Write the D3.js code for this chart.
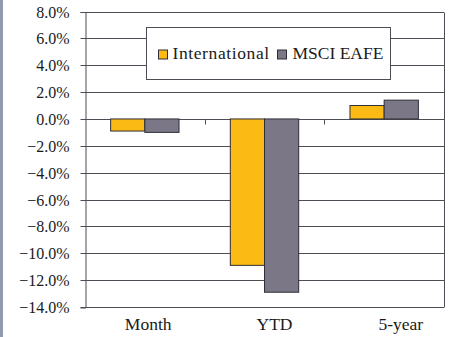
<!DOCTYPE html>
<html>
<head>
<meta charset="utf-8">
<script src="https://cdn.jsdelivr.net/npm/d3@7"></script>
<style>
  html, body { margin: 0; padding: 0; background: #fff; }
  svg { display: block; }
  text { font-family: "Liberation Serif", "DejaVu Serif", serif; fill: #1a1a1a; }
</style>
</head>
<body>
<svg id="chart" width="449" height="337"></svg>
<script>
// Returns (%) by period
const categories = ["Month", "YTD", "5-year"];
const seriesNames = ["International", "MSCI EAFE"];
const international = [-0.9, -10.9, 1.0];
const msciEafe = [-1.0, -12.9, 1.4];
const yTicks = [8, 6, 4, 2, 0, -2, -4, -6, -8, -10, -12, -14];

const colors = { "International": "#fbbb14", "MSCI EAFE": "#7b7787" };

const rows = categories.map((c, i) => ({
  category: c,
  values: [
    { key: "International", value: international[i] },
    { key: "MSCI EAFE", value: msciEafe[i] }
  ]
}));

const svg = d3.select("#chart");
const W = 449, H = 337;
const plotLeft = 85, plotRight = 444, plotTop = 11.5, plotBottom = 307;

// left edge stripe of the panel
svg.append("rect").attr("x", 0).attr("y", 0).attr("width", 3).attr("height", H)
  .attr("fill", "#8e9cad");

const y = d3.scaleLinear().domain([-14, 8]).range([plotBottom, plotTop]);
const x0 = d3.scaleBand().domain(categories).range([plotLeft, plotRight]).padding(0);
const x1 = d3.scaleBand().domain(seriesNames).range([0, x0.bandwidth()])
  .paddingInner(0).paddingOuter(0.75);
// category labels sit on a slightly wider band
const xLabel = d3.scaleBand().domain(categories).range([plotLeft, 464]).padding(0);

// horizontal gridlines
svg.append("g").selectAll("line").data(yTicks).join("line")
  .attr("x1", plotLeft).attr("x2", plotRight)
  .attr("y1", d => Math.round(y(d)) + 0.5).attr("y2", d => Math.round(y(d)) + 0.5)
  .attr("stroke", "#4d4d55").attr("stroke-width", 1);

// right frame line
svg.append("line")
  .attr("x1", plotRight + 0.5).attr("x2", plotRight + 0.5)
  .attr("y1", Math.round(y(8)) + 0.5).attr("y2", Math.round(y(-14)) + 0.5)
  .attr("stroke", "#4d4d55");

// bars
const groups = svg.append("g").selectAll("g").data(rows).join("g")
  .attr("transform", d => `translate(${x0(d.category)},0)`);
groups.selectAll("rect").data(d => d.values).join("rect")
  .attr("x", d => x1(d.key))
  .attr("width", x1.bandwidth())
  .attr("y", d => y(Math.max(0, d.value)))
  .attr("height", d => Math.abs(y(d.value) - y(0)))
  .attr("fill", d => colors[d.key])
  .attr("stroke", "#2e2e36").attr("stroke-width", 1);

// y axis
const yAxis = d3.axisLeft(y).tickValues(yTicks)
  .tickFormat(d => d3.format(".1f")(d) + "%")
  .tickSize(5).tickPadding(11);
const gy = svg.append("g").attr("transform", `translate(${plotLeft + 0.5},0.5)`).call(yAxis);
gy.selectAll("path").attr("stroke", "#4d4d55");
gy.selectAll("line").attr("stroke", "#4d4d55");
gy.selectAll("text").style("font-size", "16px").attr("fill", "#1a1a1a")
  .style("font-family", '"Liberation Serif", serif');
gy.selectAll(".tick").attr("transform", d => `translate(0,${Math.round(y(d))})`);

// category tick marks on the zero line
const gx = svg.append("g").attr("transform", `translate(0,${Math.round(y(0)) + 0.5})`);
gx.selectAll("line.sep").data(categories.slice(1)).join("line")
  .attr("class", "sep")
  .attr("x1", d => Math.round(x0(d)) + 0.5).attr("x2", d => Math.round(x0(d)) + 0.5)
  .attr("y1", 0).attr("y2", 5).attr("stroke", "#4d4d55");

// category labels
const gl = svg.append("g").attr("transform", `translate(0,${plotBottom})`)
  .call(d3.axisBottom(xLabel).tickSize(0).tickPadding(11));
gl.select(".domain").remove();
gl.selectAll("text").style("font-size", "17.5px").attr("fill", "#1a1a1a")
  .style("font-family", '"Liberation Serif", serif');

// legend
const lg = svg.append("g");
lg.append("rect").attr("x", 146.5).attr("y", 27.5).attr("width", 244).attr("height", 52)
  .attr("fill", "#fff").attr("stroke", "#4d4d55");
const legendItems = [
  { key: "International", sx: 158.5, tx: 172.5, spacing: 0.6 },
  { key: "MSCI EAFE", sx: 277.5, tx: 292.5, spacing: 0 }
];
legendItems.forEach(it => {
  lg.append("rect").attr("x", it.sx).attr("y", 50).attr("width", 9).attr("height", 9)
    .attr("fill", colors[it.key]).attr("stroke", "#2e2e36");
  lg.append("text").attr("x", it.tx).attr("y", 58.5)
    .style("font-size", "17.5px").style("letter-spacing", it.spacing + "px")
    .text(it.key);
});
</script>
</body>
</html>
